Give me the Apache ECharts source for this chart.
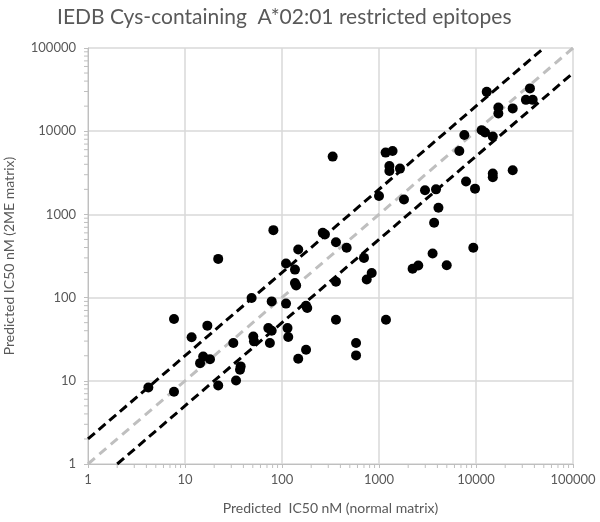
<!DOCTYPE html>
<html>
<head>
<meta charset="utf-8">
<script src="https://cdn.jsdelivr.net/npm/echarts@6/dist/echarts.min.js"></script>
<style>
  html, body { margin: 0; padding: 0; background: #fff; }
  #chart { width: 600px; height: 522px; }
</style>
</head>
<body>
<div id="chart"></div>
<script>
// predicted IC50 (nM), normal matrix vs 2ME matrix
const normalIC50 = [
  12900, 36000, 32700, 38400, 17000, 17000, 23900, 7580, 11450, 12400,
  14900, 6730, 14900, 14900, 23900, 7890, 9770, 4100, 9380, 4990,
  333, 1170, 1380, 1280, 1280, 1645, 1000, 1810, 2980, 3870,
  3700, 3570, 2220, 2540, 263, 277, 360, 464, 700, 841,
  747, 360, 81.5, 22, 147, 110, 136, 136, 140, 48.6,
  78.3, 110, 177, 182, 17, 31.5, 50.6, 51.4, 72.3, 78.3,
  75, 114, 116, 147, 177, 15.4, 18.1, 14.3, 37.5, 36.9,
  7.7, 11.7, 4.19, 7.7, 22, 33.6, 360, 1180, 580, 580
]
const meIC50 = [
  29700, 32700, 23800, 23800, 19300, 16300, 18800, 9020, 10300, 9650,
  8630, 5790, 3100, 2800, 3390, 2480, 2040, 1200, 397, 245,
  4950, 5530, 5790, 3820, 3330, 3550, 1660, 1510, 1950, 2000,
  795, 339, 222, 243, 600, 575, 463, 397, 300, 198,
  165, 155, 647, 292, 378, 257, 217, 150, 140, 99,
  90, 84.7, 80, 75, 46, 28.5, 34, 29.8, 43, 40,
  28.5, 43, 33.6, 18.4, 23.6, 19.6, 18.2, 16.3, 14.9, 13.6,
  55.4, 33.3, 8.3, 7.4, 8.8, 10.1, 54.3, 54.3, 28.5, 20.2
]
const axisMin = 1
const axisMax = 100000
const minorSteps = [2, 3, 4, 5, 6, 7, 8, 9]
const decades = [1, 10, 100, 1000, 10000]

// reference lines: y = x, y = 2x, y = x/2
const identityLine = [[1, 1], [100000, 100000]]
const upperLine = [[1, 2], [50000, 100000]]
const lowerLine = [[2, 1], [100000, 50000]]

const points = normalIC50.map((v, i) => [v, meIC50[i]])
const minorVals = []
decades.forEach(d => minorSteps.forEach(s => minorVals.push(d * s)))

const textColor = '#595959'
const gridColor = '#d9d9d9'
const font = 'Lato, "Open Sans", sans-serif'

const chart = echarts.init(document.getElementById('chart'))

function minorTicks(isX) {
  return {
    type: 'custom',
    coordinateSystem: 'cartesian2d',
    silent: true,
    clip: false,
    z: 1,
    data: minorVals.map(v => [v]),
    renderItem(params, api) {
      const v = api.value(0)
      if (isX) {
        const p = api.coord([v, axisMin])
        return { type: 'line', shape: { x1: p[0], y1: p[1], x2: p[0], y2: p[1] + 4 }, style: { stroke: '#bfbfbf', lineWidth: 1 } }
      }
      const p = api.coord([axisMin, v])
      return { type: 'line', shape: { x1: p[0] - 4, y1: p[1], x2: p[0], y2: p[1] }, style: { stroke: '#bfbfbf', lineWidth: 1 } }
    }
  }
}

const lbl = v => String(Math.round(v))

chart.setOption({
  animation: false,
  title: {
    text: 'IEDB Cys-containing  A*02:01 restricted epitopes',
    left: 52,
    top: 2,
    textStyle: { color: textColor, fontSize: 21, fontWeight: 'normal', fontFamily: font }
  },
  grid: { left: 88, right: 27, top: 48, bottom: 58, outerBoundsMode: 'none' },
  xAxis: {
    type: 'log',
    logBase: 10,
    min: axisMin,
    max: axisMax,
    name: 'Predicted  IC50 nM (normal matrix)',
    nameLocation: 'middle',
    nameGap: 37,
    nameTextStyle: { color: textColor, fontSize: 14, fontFamily: font },
    axisLine: { show: true, lineStyle: { color: '#bfbfbf' } },
    axisTick: { show: true, length: 4, lineStyle: { color: '#bfbfbf' } },
    axisLabel: { color: textColor, fontSize: 13, fontFamily: font, margin: 9, formatter: lbl },
    splitLine: { show: true, lineStyle: { color: gridColor, width: 1.5 } }
  },
  yAxis: {
    type: 'log',
    logBase: 10,
    min: axisMin,
    max: axisMax,
    name: 'Predicted IC50 nM (2ME matrix)',
    nameLocation: 'middle',
    nameGap: 72,
    nameTextStyle: { color: textColor, fontSize: 14, fontFamily: font },
    axisLine: { show: true, lineStyle: { color: '#bfbfbf' } },
    axisTick: { show: true, length: 4, lineStyle: { color: '#bfbfbf' } },
    axisLabel: { color: textColor, fontSize: 13, fontFamily: font, margin: 12, formatter: lbl },
    splitLine: { show: true, lineStyle: { color: gridColor, width: 1.5 } }
  },
  series: [
    minorTicks(true),
    minorTicks(false),
    {
      type: 'line',
      data: identityLine,
      showSymbol: false,
      silent: true,
      z: 2,
      lineStyle: { color: '#bfbfbf', width: 3, type: [9, 6] }
    },
    {
      type: 'line',
      data: upperLine,
      showSymbol: false,
      silent: true,
      z: 2,
      lineStyle: { color: '#000', width: 3, type: [9, 5] }
    },
    {
      type: 'line',
      data: lowerLine,
      showSymbol: false,
      silent: true,
      z: 2,
      lineStyle: { color: '#000', width: 3, type: [9, 5] }
    },
    {
      type: 'scatter',
      data: points,
      symbol: 'circle',
      symbolSize: 10,
      z: 3,
      itemStyle: { color: '#000', opacity: 1 }
    }
  ]
})
</script>
</body>
</html>
